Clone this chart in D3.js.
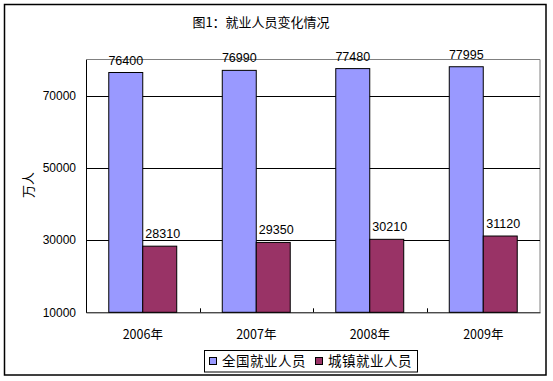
<!DOCTYPE html>
<html><head><meta charset="utf-8">
<script src="https://cdn.jsdelivr.net/npm/d3@7"></script>
<style>
body{margin:0;background:#fff;}
svg{display:block;}
</style></head>
<body>
<svg id="chart" width="553" height="381"></svg>
<script>
const categories = ["2006年","2007年","2008年","2009年"];
const seriesNames = ["全国就业人员","城镇就业人员"];
const nationalValues = [76400, 76990, 77480, 77995];
const urbanValues = [28310, 29350, 30210, 31120];
const yTicks = [10000, 30000, 50000, 70000];
const colors = ["#9999FF", "#993366"];
const titleText = "图1：就业人员变化情况";
const yTitle = "万人";

const svg = d3.select("#chart");
const numFont = "'Liberation Sans', Arial, sans-serif";
const cjkFont = "'Noto Sans CJK SC', 'Liberation Sans', sans-serif";

// outer border
svg.append("rect").attr("x",4.5).attr("y",4.5).attr("width",541.5).attr("height",370.5)
  .attr("fill","#fff").attr("stroke","#000").attr("stroke-width",1.5);

const L = 86, R = 540, T = 59.5, B = 312.3;
const x = d3.scaleBand().domain(categories).range([L, R]).paddingInner(0).paddingOuter(0);
const y = d3.scaleLinear().domain([10000, 80000]).range([B, T]);
const inner = d3.scaleBand().domain([0,1]).range([0, x.bandwidth()]).paddingInner(0).paddingOuter(0.67);

// plot area border (top/right gray)
svg.append("path").attr("d", `M${L},${T}H${R}V${B}`).attr("fill","none").attr("stroke","#808080").attr("stroke-width",1);

// gridlines
svg.append("g").selectAll("line").data(yTicks.filter(t=>t>10000)).join("line")
  .attr("x1",L).attr("x2",R).attr("y1",d=>Math.round(y(d))+0.5).attr("y2",d=>Math.round(y(d))+0.5)
  .attr("stroke","#000").attr("stroke-width",1);

// y axis
const yAxis = d3.axisLeft(y).tickValues(yTicks).tickSize(0).tickPadding(10).tickFormat(d3.format("d"));
const gy = svg.append("g").attr("transform",`translate(${L},0)`).call(yAxis);
gy.select(".domain").attr("stroke","#000");
gy.selectAll("text").attr("font-family",numFont).attr("font-size",12).attr("fill","#000");

// bars
const data = categories.map((c,i)=>({c, vals:[nationalValues[i], urbanValues[i]]}));
const groups = svg.append("g").selectAll("g").data(data).join("g")
  .attr("transform",d=>`translate(${x(d.c)},0)`);
groups.selectAll("rect").data(d=>d.vals.map((v,k)=>({v,k}))).join("rect")
  .attr("x",d=>inner(d.k)).attr("width",inner.bandwidth())
  .attr("y",d=>y(d.v)).attr("height",d=>B-y(d.v))
  .attr("fill",d=>colors[d.k]).attr("stroke","#000").attr("stroke-width",1);
groups.selectAll("text").data(d=>d.vals.map((v,k)=>({v,k}))).join("text")
  .attr("x",d=>inner(d.k)+inner.bandwidth()/2 + (d.k===1?3:0))
  .attr("y",d=>y(d.v)-8)
  .attr("text-anchor","middle").attr("font-family",numFont).attr("font-size",12.5).attr("fill","#000")
  .text(d=>d.v);

// x axis
const xAxis = d3.axisBottom(x).tickSize(0).tickPadding(18);
const gx = svg.append("g").attr("transform",`translate(0,${B})`).call(xAxis);
gx.select(".domain").attr("stroke","#000");
gx.selectAll("text").attr("font-family",cjkFont).attr("font-size",12.5).attr("fill","#000");
// inward tick marks at category boundaries
svg.append("g").selectAll("line").data(categories.slice(1)).join("line")
  .attr("x1",d=>Math.round(x(d))+0.5).attr("x2",d=>Math.round(x(d))+0.5)
  .attr("y1",B).attr("y2",B-4).attr("stroke","#000");

// title
svg.append("text").attr("x",261).attr("y",27).attr("text-anchor","middle")
  .attr("font-family",cjkFont).attr("font-size",13).attr("fill","#000").text(titleText);

// y title
svg.append("text").attr("transform","translate(33,185) rotate(-90)").attr("text-anchor","middle")
  .attr("font-family",cjkFont).attr("font-size",13).attr("fill","#000").text(yTitle);

// legend
const lg = svg.append("g");
lg.append("rect").attr("x",204.5).attr("y",350.5).attr("width",213).attr("height",21.5)
  .attr("fill","#fff").attr("stroke","#000").attr("stroke-width",1);
const legX = [209, 315];
seriesNames.forEach((n,i)=>{
  lg.append("rect").attr("x",legX[i]+0.5).attr("y",357.5).attr("width",7).attr("height",7)
    .attr("fill",colors[i]).attr("stroke","#000").attr("stroke-width",1);
  lg.append("text").attr("x",legX[i]+13).attr("y",366).attr("font-family",cjkFont)
    .attr("font-size",13.5).attr("letter-spacing",0.5).attr("fill","#000").text(n);
});
</script>
</body></html>
